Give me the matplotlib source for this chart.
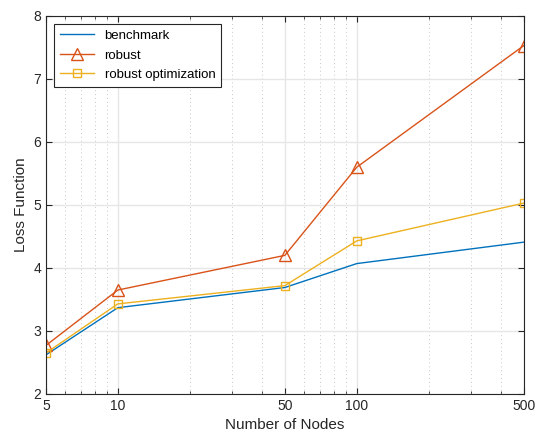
import matplotlib
matplotlib.use("Agg")
import matplotlib.pyplot as plt
from matplotlib.ticker import FixedLocator, NullFormatter

plt.rcParams['font.family'] = ['Liberation Sans', 'DejaVu Sans']

nodes = [5, 10, 50, 100, 500]
benchmark = [2.62, 3.37, 3.69, 4.07, 4.41]
robust = [2.77, 3.65, 4.20, 5.60, 7.53]
robust_opt = [2.65, 3.43, 3.72, 4.43, 5.03]
xticks = [5, 10, 50, 100, 500]
xtick_labels = ['5', '10', '50', '100', '500']
minor_x = [6, 7, 8, 9, 20, 30, 40, 60, 70, 80, 90, 200, 300, 400]

fig = plt.figure(figsize=(5.4, 4.38), dpi=100)
ax = fig.add_axes([0.085, 0.1005, 0.885, 0.863])

ax.plot(nodes, benchmark, color='#0072BD', lw=1.0, label='benchmark')
ax.plot(nodes, robust, color='#D95319', lw=1.0, marker='^', ms=8,
        mfc='none', mec='#D95319', mew=1.0, label='robust')
ax.plot(nodes, robust_opt, color='#EDB120', lw=1.0, marker='s', ms=6,
        mfc='none', mec='#EDB120', mew=1.0, label='robust optimization')

ax.set_xscale('log')
ax.set_xlim(5, 500)
ax.set_ylim(2, 8)
ax.xaxis.set_major_locator(FixedLocator(xticks))
ax.set_xticklabels(xtick_labels)
ax.xaxis.set_minor_locator(FixedLocator(minor_x))
ax.xaxis.set_minor_formatter(NullFormatter())
ax.set_yticks([2, 3, 4, 5, 6, 7, 8])

ax.grid(True, which='major', color='#e6e6e6', lw=1.0)
ax.grid(True, which='minor', axis='x', color='#c8c8c8', lw=0.7, ls=(0, (1, 3)))
ax.set_axisbelow(True)

ax.tick_params(which='both', direction='in', top=True, right=True,
               labelsize=10, colors='#262626')
ax.tick_params(which='major', length=4, width=0.8)
ax.tick_params(which='minor', length=2.5, width=0.6)
for s in ax.spines.values():
    s.set_color('#262626')
    s.set_linewidth(0.8)

ax.set_xlabel('Number of Nodes', fontsize=11, color='#262626')
ax.set_ylabel('Loss Function', fontsize=11, color='#262626')

leg = ax.legend(loc='upper left', fontsize=9.5, frameon=True, fancybox=False,
                edgecolor='#262626', framealpha=1, borderaxespad=0.6,
                handlelength=2.6, labelspacing=0.55, borderpad=0.45)
leg.get_frame().set_linewidth(0.8)

fig.savefig('out.png', dpi=100)
